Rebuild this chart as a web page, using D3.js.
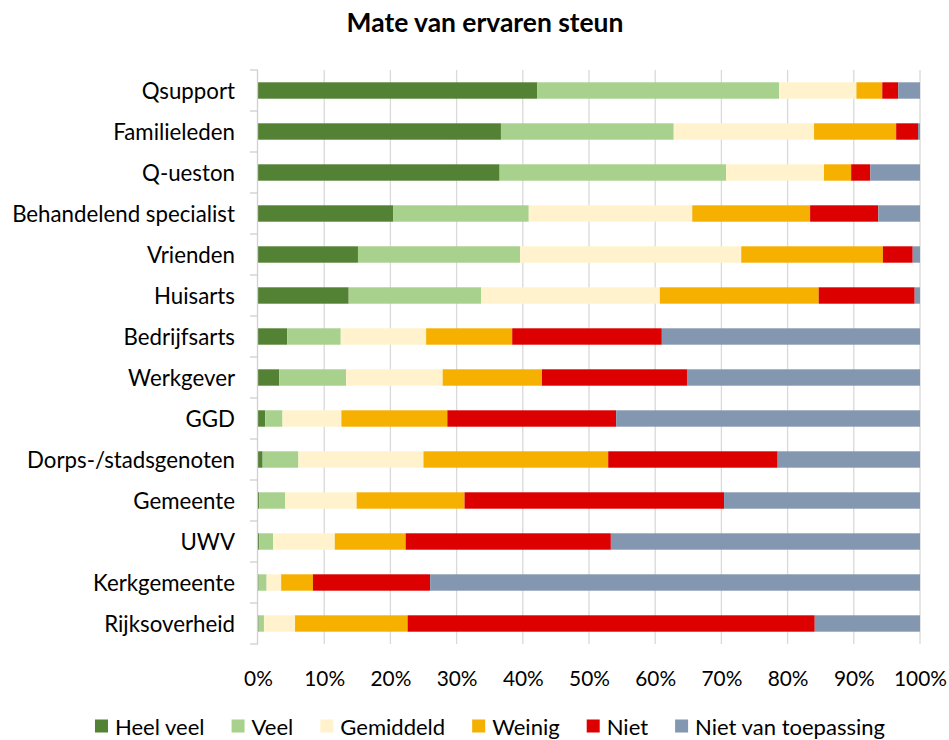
<!DOCTYPE html>
<html>
<head>
<meta charset="utf-8">
<script src="https://cdn.jsdelivr.net/npm/d3@7"></script>
<style>
html,body{margin:0;padding:0;background:#fff;}
svg{display:block;}
</style>
</head>
<body>
<svg id="chart" width="949" height="740"></svg>
<script>
const categories = ["Qsupport","Familieleden","Q-ueston","Behandelend specialist","Vrienden","Huisarts","Bedrijfsarts","Werkgever","GGD","Dorps-/stadsgenoten","Gemeente","UWV","Kerkgemeente","Rijksoverheid"];
const seriesNames = ["Heel veel","Veel","Gemiddeld","Weinig","Niet","Niet van toepassing"];
const heelVeel = [42.2,36.7,36.5,20.4,15.1,13.7,4.4,3.2,1.1,0.7,0.2,0.2,0.1,0.1];
const veel     = [36.5,26.1,34.2,20.5,24.5,20.0,8.1,10.1,2.6,5.4,3.9,2.1,1.2,0.8];
const gemiddeld= [11.7,21.2,14.8,24.7,33.4,27.0,12.9,14.6,8.9,18.9,10.8,9.3,2.2,4.7];
const weinig   = [3.9,12.4,4.1,17.8,21.4,24.0,13.0,15.0,16.0,27.9,16.3,10.7,4.8,17.0];
const niet     = [2.4,3.3,2.9,10.3,4.5,14.5,22.6,21.9,25.5,25.6,39.2,31.0,17.7,61.5];
const nvt      = [3.3,0.3,7.5,6.3,1.1,0.8,39.0,35.2,45.9,21.5,29.6,46.7,74.0,15.9];
const tickValues = [0,0.1,0.2,0.3,0.4,0.5,0.6,0.7,0.8,0.9,1.0];
const colors = ["#548235","#A9D18E","#FFF2CC","#F5B000","#DD0000","#8497B0"];
const title = "Mate van ervaren steun";

const seriesData = [heelVeel, veel, gemiddeld, weinig, niet, nvt];
const rows = categories.map((c,i)=>{
  const o = {cat:c};
  seriesNames.forEach((s,j)=>o[s]=seriesData[j][i]);
  return o;
});
rows.forEach(r=>{const t=d3.sum(seriesNames,s=>r[s]); seriesNames.forEach(s=>r[s]=r[s]/t);});

const svg = d3.select("#chart");
const font = "Lato, 'Noto Sans', sans-serif";
const m = {left:258, right:920, top:70, bottom:644};

function fitSize(str, weight, target){
  const t = svg.append("text").attr("font-family",font).attr("font-weight",weight).attr("font-size",20).text(str);
  const w = t.node().getComputedTextLength(); t.remove();
  return 20*target/w;
}
const labelSize = fitSize("Behandelend specialist","normal",223);
const titleSize = fitSize(title,"bold",277);
const tickSize = fitSize("100%","normal",53);
const legendSize = fitSize("Niet van toepassing","normal",190);

const x = d3.scaleLinear().domain([0,1]).range([m.left,m.right]);
const y = d3.scaleBand().domain(categories).range([m.top,m.bottom]).paddingInner(0.6).paddingOuter(0.3);
const yOuter = d3.scaleBand().domain(categories).range([m.top,m.bottom]);
const color = d3.scaleOrdinal().domain(seriesNames).range(colors);

svg.append("g").selectAll("line").data(tickValues.slice(1)).join("line")
  .attr("x1",d=>x(d)).attr("x2",d=>x(d)).attr("y1",m.top).attr("y2",m.bottom)
  .attr("stroke","#d9d9d9").attr("stroke-width",1.3);

const stack = d3.stack().keys(seriesNames)(rows);
svg.append("g").selectAll("g").data(stack).join("g")
  .attr("fill",d=>color(d.key))
  .selectAll("rect").data(d=>d).join("rect")
  .attr("x",d=>x(d[0])).attr("width",d=>Math.max(0,x(d[1])-x(d[0])))
  .attr("y",d=>y(d.data.cat)).attr("height",y.bandwidth());

const yax = svg.append("g");
yax.append("line").attr("x1",m.left-0.5).attr("x2",m.left-0.5).attr("y1",m.top).attr("y2",m.bottom)
  .attr("stroke","#d0d0d0").attr("stroke-width",1.3);
yax.selectAll("line.t").data(categories.concat(["__end"])).join("line").attr("class","t")
  .attr("x1",m.left-8).attr("x2",m.left)
  .attr("y1",(d,i)=>i<categories.length? yOuter(d): m.bottom)
  .attr("y2",(d,i)=>i<categories.length? yOuter(d): m.bottom)
  .attr("stroke","#d0d0d0").attr("stroke-width",1.3);

svg.append("g").selectAll("text").data(categories).join("text")
  .attr("x",235).attr("y",d=>y(d)+y.bandwidth()/2)
  .attr("text-anchor","end").attr("dominant-baseline","central")
  .attr("font-family",font).attr("font-size",labelSize).attr("fill","#000")
  .text(d=>d);

const xAxis = d3.axisBottom(x).tickValues(tickValues).tickFormat(d3.format(".0%")).tickSize(0).tickPadding(0);
const xg = svg.append("g").attr("transform",`translate(0,${m.bottom})`).call(xAxis);
xg.select(".domain").remove();
xg.selectAll("text").attr("y",33).attr("dy",0).attr("dominant-baseline","central")
  .attr("font-family",font).attr("font-size",tickSize).attr("fill","#000");

svg.append("text").attr("x",485).attr("y",22).attr("text-anchor","middle").attr("dominant-baseline","central")
  .attr("font-family",font).attr("font-weight","bold").attr("font-size",titleSize).attr("fill","#000").text(title);

const lg = svg.append("g");
const items = lg.selectAll("g").data(seriesNames).join("g");
items.append("rect").attr("width",13).attr("height",13).attr("y",-6.5).attr("fill",d=>color(d));
items.append("text").attr("x",20).attr("y",0).attr("dominant-baseline","central")
  .attr("font-family",font).attr("font-size",legendSize).attr("fill","#000").text(d=>d);
const gap = 27;
const widths = [];
items.each(function(){const w=d3.select(this).select("text").node().getComputedTextLength(); widths.push(20+w);});
const total = d3.sum(widths)+gap*(widths.length-1);
let start = 490 - total/2;
items.attr("transform",(d,i)=>{const t=`translate(${start},726)`; start+=widths[i]+gap; return t;});
</script>
</body>
</html>
